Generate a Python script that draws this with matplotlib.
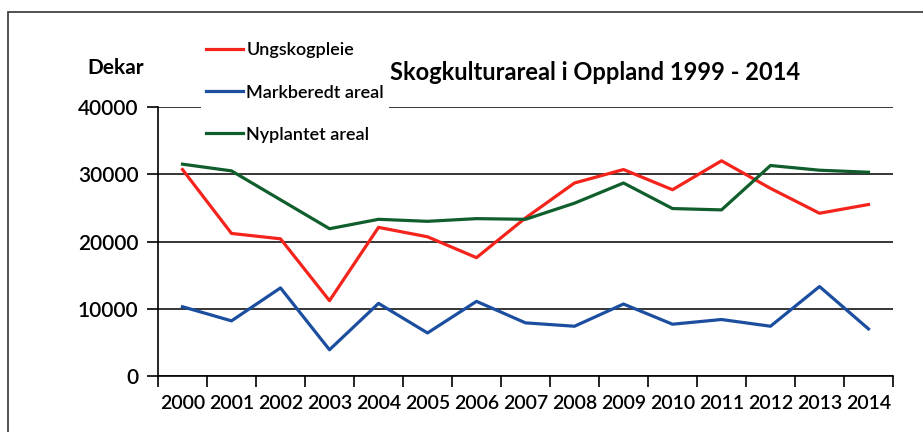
import numpy as np
import matplotlib
matplotlib.use("Agg")
import matplotlib.pyplot as plt
from matplotlib.patches import Rectangle

years = ["2000", "2001", "2002", "2003", "2004", "2005", "2006", "2007",
         "2008", "2009", "2010", "2011", "2012", "2013", "2014"]
ungskogpleie = [30700, 21200, 20400, 11200, 22100, 20700, 17600, 23500,
                28700, 30700, 27700, 32000, 27900, 24200, 25500]
markberedt = [10300, 8200, 13100, 3900, 10800, 6400, 11100, 7900,
              7400, 10700, 7700, 8400, 7400, 13300, 7000]
nyplantet = [31500, 30500, 26200, 21900, 23300, 23000, 23400, 23300,
             25700, 28700, 24900, 24700, 31300, 30600, 30300]

plt.rcParams['font.family'] = ['Lato', 'DejaVu Sans']

W, H = 923, 432
fig = plt.figure(figsize=(W / 100, H / 100), dpi=100)
fig.patch.set_facecolor('white')

# outer frame of the scanned chart
fig.add_artist(Rectangle((8 / W, -0.05), 1.0, (H - 12) / H + 0.05,
                         transform=fig.transFigure, fill=False,
                         edgecolor='#333333', lw=1.2))

ax = fig.add_axes([158 / W, (H - 376) / H, (893 - 158) / W, (376 - 107) / H])
x = np.arange(len(years))
ax.plot(x, ungskogpleie, color='#f4241c', lw=2.3, label='Ungskogpleie')
ax.plot(x, markberedt, color='#1c4ea0', lw=2.3, label='Markberedt areal')
ax.plot(x, nyplantet, color='#0f5e2c', lw=2.3, label='Nyplantet areal')

ax.set_xlim(-0.5, len(years) - 0.5)
ax.set_ylim(0, 40000)
ax.set_yticks([0, 10000, 20000, 30000, 40000])
ax.set_yticklabels(['0', '10000', '20000', '30000', '40000'],
                   fontsize=15, fontweight='semibold')
ax.set_xticks(np.arange(-0.5, len(years), 1.0))
ax.set_xticklabels([])
ax.set_xticks(x, minor=True)
ax.set_xticklabels(years, minor=True, fontsize=14, fontweight='semibold')
ax.tick_params(axis='x', which='major', direction='out', length=8, width=1.2)
ax.tick_params(axis='x', which='minor', length=0, pad=14)
ax.tick_params(axis='y', direction='out', length=8, width=1.2, pad=6)
ax.yaxis.grid(True, color='black', lw=1.1)
ax.set_axisbelow(True)
for s in ['top', 'right']:
    ax.spines[s].set_visible(False)
for s in ['left', 'bottom']:
    ax.spines[s].set_linewidth(1.2)

leg = ax.legend(loc='upper left', bbox_to_anchor=(192 / W, 1 - 28 / H),
                bbox_transform=fig.transFigure,
                prop={'size': 13, 'weight': 'semibold'},
                frameon=True, facecolor='white', edgecolor='none',
                framealpha=1, fancybox=False, labelspacing=1.45,
                handlelength=2.0, handletextpad=0.2, borderpad=0.3)

fig.text(595 / W, 1 - 72 / H, 'Skogkulturareal i Oppland 1999 - 2014',
         fontsize=17, fontweight='bold', ha='center', va='center')
fig.text(116 / W, 1 - 68 / H, 'Dekar', fontsize=15, fontweight='bold',
         ha='center', va='center')

fig.savefig('out.png', dpi=100)
